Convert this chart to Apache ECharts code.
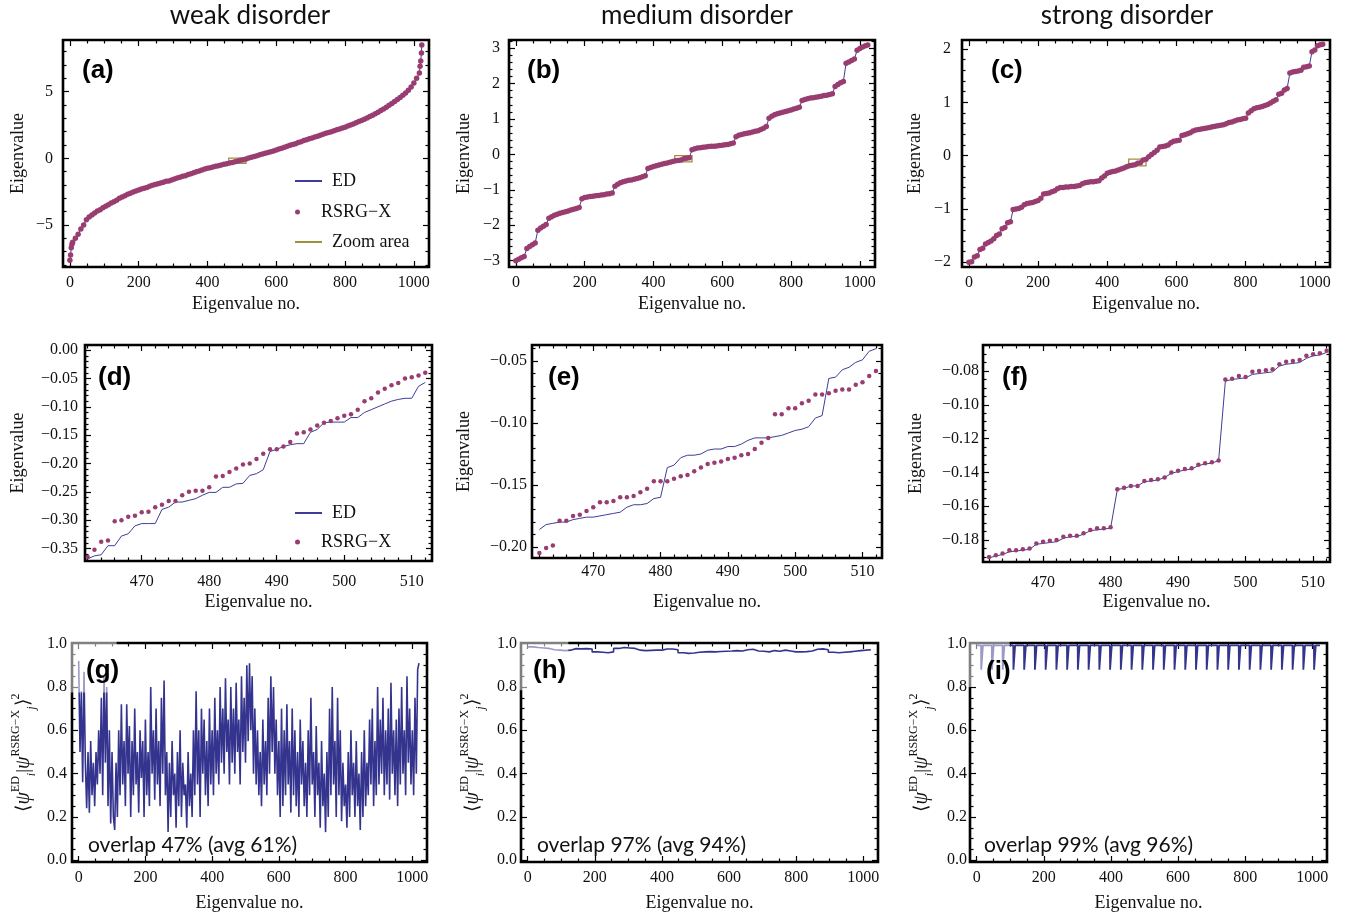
<!DOCTYPE html>
<html><head><meta charset="utf-8">
<script src="https://cdn.jsdelivr.net/npm/echarts@6/dist/echarts.min.js"></script>
<style>html,body{margin:0;padding:0;background:#fff}#c{width:1349px;height:916px}</style>
</head><body><div id="c"></div>
<script>
// ---------------- DATA ----------------
const columnTitles = ['weak disorder', 'medium disorder', 'strong disorder'];
const panelLabels = ['(a)','(b)','(c)','(d)','(e)','(f)','(g)','(h)','(i)'];
const overlapTexts = ['overlap 47% (avg 61%)', 'overlap 97% (avg 94%)', 'overlap 99% (avg 96%)'];

// tick labels
const xTicksWide = [0, 200, 400, 600, 800, 1000];
const xTicksZoom = [470, 480, 490, 500, 510];
const yTicksA = [-5, 0, 5];
const yTicksB = [-3, -2, -1, 0, 1, 2, 3];
const yTicksC = [-2, -1, 0, 1, 2];
const yTicksD = [0, -0.05, -0.1, -0.15, -0.2, -0.25, -0.3, -0.35];
const yTicksE = [-0.05, -0.1, -0.15, -0.2];
const yTicksF = [-0.08, -0.1, -0.12, -0.14, -0.16, -0.18];
const yTicksOv = [0, 0.2, 0.4, 0.6, 0.8, 1.0];

// eigenvalue indices sampled
const idxTop = []; for (let k = 0; k <= 1016; k += 8) idxTop.push(k); idxTop.push(1023);
const idxA = [0, 2, 4, 6]; for (let k = 8; k <= 1016; k += 8) idxA.push(k); idxA.push(1018, 1020, 1022, 1023);
const idxMid = []; for (let k = 462; k <= 512; k++) idxMid.push(k);
const idxG = []; for (let k = 0; k <= 1020; k += 4) idxG.push(k);
const idxH = []; for (let k = 0; k <= 1008; k += 16) idxH.push(k); idxH.push(1023);

// (a) weak disorder spectrum
const specA = [-7.65,-7.25,-6.7,-6.45,
 -6.3,-6.0,-5.7,-5.3,-5.0,-4.6,-4.4,-4.25,
 -4.1,-3.95,-3.85,-3.7,-3.6,-3.48,-3.35,-3.25,
 -3.15,-3.0,-2.9,-2.8,-2.7,-2.62,-2.52,-2.45,
 -2.38,-2.3,-2.25,-2.18,-2.1,-2.02,-1.97,-1.9,
 -1.85,-1.8,-1.73,-1.7,-1.62,-1.55,-1.48,-1.42,
 -1.35,-1.3,-1.22,-1.15,-1.08,-1.0,-0.95,-0.88,
 -0.8,-0.75,-0.7,-0.65,-0.6,-0.55,-0.5,-0.45,
 -0.4,-0.361,-0.306,-0.251,-0.211,-0.14,-0.105,-0.057,
 0.02,0.08,0.13,0.2,0.26,0.32,0.38,0.43,
 0.5,0.55,0.62,0.7,0.76,0.82,0.9,0.97,
 1.04,1.1,1.18,1.25,1.33,1.4,1.47,1.53,
 1.6,1.66,1.73,1.8,1.87,1.93,2.0,2.07,
 2.14,2.2,2.27,2.33,2.42,2.5,2.58,2.66,
 2.75,2.84,2.93,3.03,3.13,3.23,3.34,3.45,
 3.58,3.7,3.83,3.97,4.1,4.25,4.4,4.55,
 4.72,4.9,5.1,5.35,5.65,6.0,6.4,
 6.9,7.3,7.9,8.5];
// (b) medium disorder spectrum
const specB = [-3.0,-2.96,-2.92,-2.88,
 -2.66,-2.6,-2.55,-2.5,
 -2.14,-2.08,-2.03,-1.98,
 -1.8,-1.76,-1.72,-1.69,-1.66,-1.64,-1.62,-1.6,-1.57,-1.55,-1.53,-1.5,
 -1.25,-1.22,-1.2,-1.19,-1.18,-1.17,-1.16,-1.15,-1.14,-1.12,-1.11,-1.09,
 -0.9,-0.84,-0.8,-0.77,-0.75,-0.73,-0.72,-0.7,-0.68,-0.66,-0.63,-0.6,
 -0.4,-0.37,-0.34,-0.32,-0.3,-0.28,-0.26,-0.24,-0.22,-0.2,-0.18,-0.175,-0.16,-0.122,-0.11,-0.095,
 0.13,0.16,0.18,0.19,0.2,0.21,0.22,0.23,0.23,0.24,0.25,0.26,0.27,0.28,0.3,0.32,
 0.5,0.54,0.56,0.58,0.6,0.61,0.63,0.65,0.67,0.7,0.74,0.79,
 1.02,1.08,1.12,1.15,1.17,1.19,1.21,1.23,1.25,1.28,1.3,1.33,
 1.52,1.55,1.57,1.59,1.6,1.61,1.63,1.64,1.66,1.67,1.69,1.71,
 1.92,1.97,2.02,2.06,
 2.57,2.61,2.65,2.69,
 2.94,2.99,3.03,3.07,3.09];
// (c) strong disorder spectrum
const specC = [-2.0,-1.99,-1.9,-1.88,-1.76,-1.74,-1.66,-1.63,
 -1.6,-1.56,-1.5,-1.47,-1.37,-1.35,-1.26,-1.24,
 -1.01,-1.0,-0.99,-0.97,-0.92,-0.9,-0.89,-0.88,
 -0.86,-0.84,-0.8,-0.72,-0.71,-0.7,-0.68,-0.66,
 -0.62,-0.6,-0.6,-0.59,-0.59,-0.58,-0.58,-0.57,
 -0.56,-0.53,-0.51,-0.5,-0.49,-0.49,-0.48,-0.47,
 -0.42,-0.38,-0.33,-0.31,-0.3,-0.29,-0.27,-0.25,
 -0.23,-0.21,-0.19,-0.18,-0.173,-0.143,-0.133,-0.08,
 -0.069,-0.02,0.02,0.06,0.1,0.16,0.17,0.18,
 0.2,0.24,0.27,0.28,0.29,0.38,0.39,0.41,
 0.43,0.46,0.48,0.49,0.5,0.51,0.52,0.53,
 0.54,0.55,0.56,0.57,0.58,0.6,0.62,0.63,
 0.65,0.67,0.68,0.69,0.7,0.8,0.84,0.88,
 0.9,0.91,0.92,0.94,0.96,0.99,1.02,1.05,
 1.15,1.17,1.23,1.26,1.55,1.57,1.58,1.59,
 1.6,1.66,1.67,1.68,1.95,1.98,2.06,2.08,
 2.09];
// zoom area (eigenvalue no. 462..512)
const zoomX = [462, 512];
const zoomYA = [-0.372, 0.009];
const zoomYB = [-0.209, -0.037];
const zoomYC = [-0.193, -0.0646];

// (d)
const edD = [-0.368,-0.363,-0.361,-0.345,-0.345,-0.328,-0.324,-0.310,-0.306,-0.306,
 -0.306,-0.281,-0.277,-0.268,-0.268,-0.265,-0.262,-0.256,-0.251,-0.251,
 -0.242,-0.242,-0.236,-0.235,-0.221,-0.218,-0.211,-0.179,-0.175,-0.170,
 -0.167,-0.165,-0.165,-0.145,-0.140,-0.128,-0.127,-0.127,-0.127,-0.119,
 -0.119,-0.110,-0.105,-0.100,-0.095,-0.090,-0.087,-0.085,-0.085,-0.064,-0.057];
const rsD = [-0.365,-0.352,-0.338,-0.336,-0.302,-0.300,-0.294,-0.292,-0.286,-0.285,
 -0.277,-0.273,-0.266,-0.266,-0.256,-0.250,-0.248,-0.248,-0.242,-0.223,
 -0.222,-0.215,-0.209,-0.202,-0.200,-0.192,-0.183,-0.175,-0.175,-0.170,
 -0.162,-0.147,-0.145,-0.140,-0.133,-0.128,-0.125,-0.120,-0.116,-0.113,
 -0.105,-0.090,-0.085,-0.075,-0.068,-0.062,-0.058,-0.050,-0.048,-0.045,-0.040];
// (e)
const edE = [-0.186,-0.182,-0.181,-0.180,-0.180,-0.178,-0.177,-0.176,-0.176,-0.175,
 -0.174,-0.173,-0.172,-0.168,-0.166,-0.166,-0.165,-0.161,-0.160,-0.136,
 -0.134,-0.128,-0.126,-0.126,-0.125,-0.122,-0.121,-0.121,-0.119,-0.119,
 -0.117,-0.114,-0.112,-0.112,-0.112,-0.111,-0.110,-0.108,-0.106,-0.105,
 -0.103,-0.096,-0.094,-0.064,-0.063,-0.057,-0.055,-0.051,-0.049,-0.042,-0.040];
const rsE = [-0.205,-0.201,-0.199,-0.179,-0.179,-0.175,-0.174,-0.171,-0.168,-0.164,
 -0.164,-0.163,-0.160,-0.160,-0.159,-0.156,-0.153,-0.147,-0.147,-0.147,
 -0.145,-0.143,-0.142,-0.139,-0.136,-0.133,-0.132,-0.131,-0.129,-0.128,
 -0.126,-0.125,-0.121,-0.116,-0.112,-0.093,-0.093,-0.088,-0.088,-0.084,
 -0.082,-0.077,-0.077,-0.076,-0.074,-0.073,-0.073,-0.069,-0.067,-0.062,-0.058];
// (f)
const edF = [-0.1905,-0.1895,-0.1885,-0.187,-0.1865,-0.186,-0.1855,-0.1825,-0.182,-0.1815,
 -0.181,-0.179,-0.178,-0.178,-0.1765,-0.1745,-0.174,-0.1735,-0.173,-0.150,
 -0.1495,-0.148,-0.148,-0.1455,-0.145,-0.1445,-0.143,-0.1405,-0.1395,-0.1385,
 -0.138,-0.136,-0.135,-0.1345,-0.133,-0.086,-0.085,-0.0845,-0.084,-0.082,
 -0.0815,-0.081,-0.0805,-0.077,-0.076,-0.0755,-0.075,-0.0725,-0.071,-0.0705,-0.069];
const rsF = [-0.190,-0.189,-0.188,-0.186,-0.186,-0.1855,-0.185,-0.182,-0.181,-0.1805,
 -0.180,-0.178,-0.1775,-0.1775,-0.176,-0.174,-0.173,-0.173,-0.1725,-0.150,
 -0.149,-0.148,-0.148,-0.145,-0.1445,-0.144,-0.143,-0.140,-0.139,-0.138,
 -0.1375,-0.1355,-0.1345,-0.134,-0.133,-0.085,-0.0845,-0.083,-0.0835,-0.0805,
 -0.080,-0.0795,-0.079,-0.076,-0.0745,-0.074,-0.0735,-0.071,-0.070,-0.0695,-0.068];

// (g) overlaps, weak disorder
const overlapG = [0.92,0.5,0.78,0.36,0.87,0.45,0.24,0.5,0.22,0.55,0.3,0.45,0.25,0.5,0.35,0.6,
 0.4,0.75,0.3,0.85,0.45,0.8,0.25,0.6,0.17,0.5,0.2,0.14,0.45,0.2,0.6,0.3,
 0.72,0.35,0.55,0.25,0.72,0.4,0.62,0.2,0.55,0.3,0.7,0.35,0.5,0.22,0.6,0.38,
 0.55,0.2,0.65,0.3,0.5,0.25,0.8,0.4,0.6,0.28,0.7,0.35,0.55,0.25,0.75,0.4,
 0.83,0.3,0.5,0.13,0.45,0.2,0.55,0.3,0.4,0.15,0.5,0.25,0.6,0.2,0.45,0.3,
 0.35,0.15,0.5,0.25,0.4,0.2,0.6,0.3,0.78,0.35,0.6,0.2,0.7,0.4,0.65,0.3,
 0.55,0.25,0.7,0.35,0.6,0.3,0.75,0.4,0.6,0.35,0.8,0.45,0.7,0.4,0.84,0.5,
 0.65,0.35,0.8,0.45,0.7,0.4,0.82,0.5,0.65,0.35,0.85,0.5,0.75,0.45,0.9,0.55,
 0.91,0.6,0.85,0.4,0.7,0.35,0.6,0.3,0.5,0.25,0.65,0.35,0.55,0.3,0.75,0.4,
 0.85,0.5,0.8,0.4,0.65,0.3,0.55,0.2,0.7,0.25,0.6,0.3,0.72,0.35,0.55,0.22,
 0.7,0.3,0.6,0.25,0.5,0.2,0.65,0.35,0.55,0.25,0.45,0.2,0.6,0.3,0.75,0.35,
 0.5,0.2,0.62,0.3,0.45,0.15,0.55,0.25,0.4,0.13,0.5,0.2,0.7,0.3,0.8,0.35,
 0.55,0.2,0.75,0.3,0.6,0.18,0.45,0.25,0.35,0.15,0.5,0.2,0.6,0.3,0.45,0.2,
 0.55,0.25,0.4,0.14,0.5,0.2,0.6,0.25,0.45,0.3,0.65,0.35,0.7,0.25,0.55,0.3,
 0.8,0.35,0.65,0.4,0.75,0.3,0.6,0.35,0.7,0.28,0.82,0.4,0.6,0.3,0.65,0.25,
 0.7,0.35,0.8,0.4,0.6,0.3,0.85,0.45,0.7,0.35,0.6,0.3,0.75,0.4,0.88,0.91];
// (h) overlaps, medium disorder
const overlapH = [0.985,0.982,0.98,0.978,0.972,0.97,0.968,0.97,
 0.977,0.976,0.977,0.975,0.962,0.96,0.958,0.962,
 0.978,0.982,0.98,0.978,0.97,0.968,0.969,0.97,
 0.97,0.975,0.975,0.972,0.958,0.955,0.957,0.96,
 0.962,0.963,0.962,0.964,0.965,0.966,0.968,0.966,
 0.972,0.974,0.966,0.965,0.962,0.968,0.965,0.97,
 0.966,0.962,0.962,0.963,0.966,0.974,0.976,0.972,
 0.96,0.958,0.96,0.962,0.965,0.968,0.97,0.972,0.97];
// (i) overlaps, strong disorder: plateau level and positions/depth of the dips
const plateauI = 0.992;
const dipsI = [13,45,77,109,141,173,205,237,269,301,333,365,397,429,461,493,
 525,557,589,621,653,685,717,749,781,813,845,877,909,941,973,1005];
const dipDepthI = 0.88;
// semi-transparent inset boxes at top-left of (g),(h),(i): [x0, x1, y0, y1]
const insetG = [-20, 114, 0.775, 1.003];
const insetH = [-20, 121, 0.785, 1.003];
const insetI = [-20, 98, 0.80, 1.003];

// ---------------- CHART ----------------
const chart = echarts.init(document.getElementById('c'), null, {renderer: 'canvas'});
const pairs = (xs, ys) => xs.map((x, i) => [x, ys[i]]);
const SERIF = '"Liberation Serif", "Times New Roman", serif';
const colED = '#3d3d99', colRS = '#993d71', colZoom = '#a08f3c', colOv = '#34348f';

function fmt(v, d) {
  let s = Math.abs(v) < 1e-12 ? (0).toFixed(d) : v.toFixed(d);
  return s.replace('-', '\u2212');
}
function minors(lo, hi, step, majors) {
  const out = [];
  const s = Math.ceil(lo / step - 1e-9), e = Math.floor(hi / step + 1e-9);
  for (let k = s; k <= e; k++) {
    const v = +(k * step).toFixed(6);
    if (!majors.some(m => Math.abs(m - v) < step * 0.01)) out.push(v);
  }
  return out;
}

const ovName = '\u27E8{it|\u03C8}{sp|ED}{sb|i}|{it|\u03C8}{sp|RSRG\u2212X}{sb|j}\u27E9{sp|2}';

const P = [
 {grid:[63,40,366,227], xr:[-20,1044], yr:[-8.15,8.87], xMaj:xTicksWide, xStep:50, yMaj:yTicksA, yStep:1, xDec:0, yDec:0, xLM:8, xNG:28, yLM:10, yNG:36, yName:'Eigenvalue'},
 {grid:[509,40,366,227], xr:[-20,1044], yr:[-3.18,3.23], xMaj:xTicksWide, xStep:50, yMaj:yTicksB, yStep:0.2, xDec:0, yDec:0, xLM:8, xNG:28, yLM:9, yNG:36, yName:'Eigenvalue'},
 {grid:[962,40,368,227], xr:[-20,1044], yr:[-2.09,2.17], xMaj:xTicksWide, xStep:50, yMaj:yTicksC, yStep:0.2, xDec:0, yDec:0, xLM:8, xNG:28, yLM:11, yNG:38, yName:'Eigenvalue'},
 {grid:[85,345,347,216], xr:[461.6,513.0], yr:[-0.372,0.009], xMaj:xTicksZoom, xStep:2, yMaj:yTicksD, yStep:0.01, xDec:0, yDec:2, xLM:13, xNG:32, yLM:7, yNG:58, yName:'Eigenvalue'},
 {grid:[532,345,350,213], xr:[460.9,512.9], yr:[-0.209,-0.037], xMaj:xTicksZoom, xStep:2, yMaj:yTicksE, yStep:0.01, xDec:0, yDec:2, xLM:6, xNG:35, yLM:5, yNG:59, yName:'Eigenvalue'},
 {grid:[983,345,347,217], xr:[461.1,512.5], yr:[-0.193,-0.0646], xMaj:xTicksZoom, xStep:2, yMaj:yTicksF, yStep:0.005, xDec:0, yDec:2, xLM:13, xNG:31, yLM:4, yNG:58, yName:'Eigenvalue'},
 {grid:[72,643,355,219], xr:[-20,1044], yr:[-0.008,1.003], xMaj:xTicksWide, xStep:50, yMaj:yTicksOv, yStep:0.05, xDec:0, yDec:1, xLM:8, xNG:32, yLM:5, yNG:34, yName:ovName},
 {grid:[521,643,357,219], xr:[-20,1044], yr:[-0.008,1.003], xMaj:xTicksWide, xStep:50, yMaj:yTicksOv, yStep:0.05, xDec:0, yDec:1, xLM:8, xNG:32, yLM:4, yNG:34, yName:ovName},
 {grid:[970,643,357,219], xr:[-20,1044], yr:[-0.008,1.003], xMaj:xTicksWide, xStep:50, yMaj:yTicksOv, yStep:0.05, xDec:0, yDec:1, xLM:8, xNG:32, yLM:3, yNG:34, yName:ovName}
];

const grids = [], xAxes = [], yAxes = [];
const tickStyle = {color: '#000', width: 1.2};
const labelStyle = {fontFamily: SERIF, fontSize: 16, color: '#111'};
P.forEach((p, gi) => {
  grids.push({left: p.grid[0], top: p.grid[1], width: p.grid[2], height: p.grid[3], show: true,
    borderColor: '#000', borderWidth: 2.6, backgroundColor: 'transparent', containLabel: false, outerBoundsMode: 'none'});
  const xMin = minors(p.xr[0], p.xr[1], p.xStep, p.xMaj);
  const yMin = minors(p.yr[0], p.yr[1], p.yStep, p.yMaj);
  const bx = {type: 'value', gridIndex: gi, min: p.xr[0], max: p.xr[1], axisLine: {show: false, onZero: false},
    splitLine: {show: false}, axisLabel: {show: false}, silent: true};
  const by = {type: 'value', gridIndex: gi, min: p.yr[0], max: p.yr[1], axisLine: {show: false, onZero: false},
    splitLine: {show: false}, axisLabel: {show: false}, silent: true};
  xAxes.push(Object.assign({}, bx, {position: 'bottom',
    axisTick: {show: true, inside: true, length: 6, lineStyle: tickStyle, customValues: p.xMaj},
    axisLabel: Object.assign({show: true, customValues: p.xMaj, margin: p.xLM, formatter: v => fmt(v, p.xDec)}, labelStyle),
    name: 'Eigenvalue no.', nameLocation: 'middle', nameGap: p.xNG,
    nameTextStyle: {fontFamily: SERIF, fontSize: 18, color: '#111'}}));
  xAxes.push(Object.assign({}, bx, {position: 'bottom', axisTick: {show: true, inside: true, length: 3.5, lineStyle: tickStyle, customValues: xMin}}));
  xAxes.push(Object.assign({}, bx, {position: 'top', axisTick: {show: true, inside: true, length: 6, lineStyle: tickStyle, customValues: p.xMaj}}));
  xAxes.push(Object.assign({}, bx, {position: 'top', axisTick: {show: true, inside: true, length: 3.5, lineStyle: tickStyle, customValues: xMin}}));
  const ov = gi >= 6;
  yAxes.push(Object.assign({}, by, {position: 'left',
    axisTick: {show: true, inside: true, length: 6, lineStyle: tickStyle, customValues: p.yMaj},
    axisLabel: Object.assign({show: true, customValues: p.yMaj, margin: p.yLM, formatter: v => fmt(v, p.yDec)}, labelStyle),
    name: p.yName, nameLocation: 'middle', nameGap: p.yNG, nameRotate: 90,
    nameTextStyle: ov ? {fontFamily: SERIF, fontSize: 19, color: '#111', lineHeight: 28,
      rich: {it: {fontFamily: SERIF, fontSize: 20, fontStyle: 'italic', color: '#111', lineHeight: 28},
             sp: {fontFamily: SERIF, fontSize: 12, color: '#111', verticalAlign: 'top'},
             sb: {fontFamily: SERIF, fontSize: 12, fontStyle: 'italic', color: '#111', verticalAlign: 'bottom'}}}
      : {fontFamily: SERIF, fontSize: 18, color: '#111'}}));
  yAxes.push(Object.assign({}, by, {position: 'left', axisTick: {show: true, inside: true, length: 3.5, lineStyle: tickStyle, customValues: yMin}}));
  yAxes.push(Object.assign({}, by, {position: 'right', axisTick: {show: true, inside: true, length: 6, lineStyle: tickStyle, customValues: p.yMaj}}));
  yAxes.push(Object.assign({}, by, {position: 'right', axisTick: {show: true, inside: true, length: 3.5, lineStyle: tickStyle, customValues: yMin}}));
});

const series = [];
function addSpectrum(gi, xs, ys, box) {
  series.push({type: 'line', name: 'ED', xAxisIndex: gi * 4, yAxisIndex: gi * 4, data: pairs(xs, ys),
    showSymbol: false, color: colED, lineStyle: {color: colED, width: 1}, silent: true, z: 2});
  series.push({type: 'scatter', name: 'RSRG\u2212X', xAxisIndex: gi * 4, yAxisIndex: gi * 4, data: pairs(xs, ys),
    symbolSize: 5.5, itemStyle: {color: colRS, opacity: 1}, silent: true, z: 3});
  series.push({type: 'line', name: 'Zoom area', xAxisIndex: gi * 4, yAxisIndex: gi * 4, data: [],
    color: colZoom, lineStyle: {color: colZoom}, z: 5,
    markArea: {silent: true, itemStyle: {color: 'rgba(0,0,0,0)', borderColor: colZoom, borderWidth: 1.3},
      data: [[{xAxis: zoomX[0], yAxis: box[0]}, {xAxis: zoomX[1], yAxis: box[1]}]]}});
}
addSpectrum(0, idxA, specA, zoomYA);
addSpectrum(1, idxTop, specB, zoomYB);
addSpectrum(2, idxTop, specC, zoomYC);
function addZoom(gi, ed, rs) {
  series.push({type: 'line', name: 'ED', xAxisIndex: gi * 4, yAxisIndex: gi * 4, data: pairs(idxMid, ed),
    showSymbol: false, color: colED, lineStyle: {color: colED, width: 1}, silent: true, z: 2});
  series.push({type: 'scatter', name: 'RSRG\u2212X', xAxisIndex: gi * 4, yAxisIndex: gi * 4, data: pairs(idxMid, rs),
    symbolSize: 4.5, itemStyle: {color: colRS, opacity: 1}, silent: true, z: 3});
}
addZoom(3, edD, rsD);
addZoom(4, edE, rsE);
addZoom(5, edF, rsF);
series.push({type: 'line', name: 'overlapG', xAxisIndex: 24, yAxisIndex: 24, data: pairs(idxG, overlapG),
  showSymbol: false, color: colOv, lineStyle: {color: colOv, width: 1.6}, silent: true});
series.push({type: 'line', name: 'overlapH', xAxisIndex: 28, yAxisIndex: 28, data: pairs(idxH, overlapH), step: 'end',
  showSymbol: false, color: colOv, lineStyle: {color: colOv, width: 1.6}, silent: true});
const dataI = [[0, plateauI]];
dipsI.forEach(d => { dataI.push([d, plateauI], [d + 0.5, dipDepthI], [d + 5, dipDepthI], [d + 5.5, plateauI]); });
dataI.push([1023, plateauI]);
series.push({type: 'line', name: 'overlapI', xAxisIndex: 32, yAxisIndex: 32, data: dataI,
  showSymbol: false, color: colOv, lineStyle: {color: colOv, width: 1.8}, silent: true});

const legendText = {fontFamily: SERIF, fontSize: 18, color: '#111', padding: [0, 0, 0, 5]};
const legends = [
  {data: [{name: 'ED', icon: 'rect'}], left: 295, top: 172, itemWidth: 27, itemHeight: 2},
  {data: [{name: 'RSRG\u2212X', icon: 'circle'}], left: 295, top: 203, itemWidth: 27, itemHeight: 5},
  {data: [{name: 'Zoom area', icon: 'rect'}], left: 295, top: 233, itemWidth: 27, itemHeight: 2},
  {data: [{name: 'ED', icon: 'rect'}], left: 295, top: 504, itemWidth: 27, itemHeight: 2},
  {data: [{name: 'RSRG\u2212X', icon: 'circle'}], left: 295, top: 533, itemWidth: 27, itemHeight: 5}
].map(l => Object.assign({orient: 'horizontal', padding: 0, itemGap: 0, selectedMode: false, textStyle: legendText}, l));

const texts = [];
const colCenters = [250, 697, 1127];
columnTitles.forEach((t, i) => texts.push({type: 'text', x: colCenters[i], y: 16, z: 100,
  style: {text: t, font: '26px Lato, "Open Sans", sans-serif', fill: '#111', align: 'center', verticalAlign: 'middle', textAlign: 'center', textVerticalAlign: 'middle'}}));
const lblPos = [[82,71],[527,71],[991,71],[98,378],[548,378],[1002,378],[86,671],[533,671],[986,672]];
panelLabels.forEach((t, i) => texts.push({type: 'text', x: lblPos[i][0], y: lblPos[i][1], z: 100,
  style: {text: t, font: 'bold 26px "Liberation Sans", Arial, sans-serif', fill: '#000', align: 'left', verticalAlign: 'middle', textAlign: 'left', textVerticalAlign: 'middle'}}));
const ovPos = [[88,845],[537,845],[984,845]];
overlapTexts.forEach((t, i) => texts.push({type: 'text', x: ovPos[i][0], y: ovPos[i][1], z: 100,
  style: {text: t, font: '21px Lato, "Open Sans", sans-serif', fill: '#111', align: 'left', verticalAlign: 'middle', textAlign: 'left', textVerticalAlign: 'middle'}}));

chart.setOption({
  animation: false,
  backgroundColor: '#fff',
  textStyle: {fontFamily: SERIF},
  grid: grids, xAxis: xAxes, yAxis: yAxes, series: series, legend: legends,
  graphic: {elements: texts}
});

// semi-transparent inset boxes (drawn through the library's scales)
const boxes = [[6, insetG], [7, insetH], [8, insetI]];
const rects = boxes.map(([gi, b]) => {
  const p1 = chart.convertToPixel({xAxisIndex: gi * 4, yAxisIndex: gi * 4}, [b[0], b[3]]);
  const p2 = chart.convertToPixel({xAxisIndex: gi * 4, yAxisIndex: gi * 4}, [b[1], b[2]]);
  return {type: 'rect', z: 50, silent: true,
    shape: {x: p1[0] - 2, y: p1[1] - 2, width: p2[0] - p1[0] + 2, height: p2[1] - p1[1] + 2},
    style: {fill: 'rgba(255,255,255,0.5)'}};
});
chart.setOption({graphic: {elements: texts.concat(rects)}});
</script></body></html>
